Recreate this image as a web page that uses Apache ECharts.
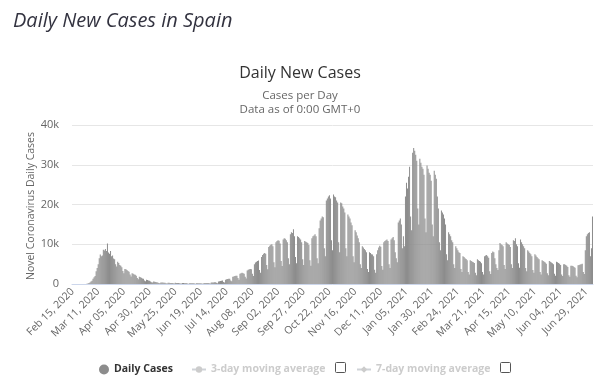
<!DOCTYPE html>
<html><head><meta charset="utf-8">
<script src="https://cdn.jsdelivr.net/npm/echarts@6/dist/echarts.min.js"></script>
<style>html,body{margin:0;padding:0;background:#fff}#c{width:600px;height:379px}</style>
</head><body><div id="c"></div>
<script>
// Daily new cases, Spain, one value per day starting Saturday Feb 15, 2020 (rows = weeks Sat..Fri)
const dailyCases = [
0,0,1,0,0,1,0,
0,0,2,3,5,8,15,
40,150,250,400,600,800,1300,
1700,2000,3200,4000,5000,6500,7400,
7000,7200,8600,8400,8800,8300,10200,
7900,7600,8300,7000,7200,6400,6200,
5000,4400,5600,5300,4800,4600,4200,
3300,2700,3800,3700,3500,3300,3100,
2400,1900,2700,2600,2400,2300,2100,
1500,1200,1800,1700,1600,1400,1300,
900,700,1100,1000,900,800,600,
450,350,600,550,500,450,400,
280,220,400,380,350,330,300,
200,150,320,300,280,260,240,
180,120,300,280,250,230,200,
150,100,250,230,200,190,170,
120,80,220,200,190,180,170,
110,80,230,220,210,200,190,
130,90,280,260,270,250,240,
160,110,350,380,400,420,450,
300,200,650,700,750,800,850,
500,400,1100,1200,1250,1300,1350,
900,700,1800,1900,2000,2100,2100,
1500,1100,2600,2700,2800,2700,2600,
1800,1400,3400,3600,3700,3800,3700,
2600,2000,5000,5400,5600,5800,5900,
3500,2800,6800,7300,7600,7800,7600,
4800,3700,9300,9600,9900,10000,9500,
5500,4200,10500,10800,11000,10900,10200,
5800,4500,11200,11500,11400,11000,10500,
6500,5000,12500,13000,12800,13800,12000,
6800,5200,12000,11800,11500,11200,10500,
6200,4800,10800,10600,10500,10300,9800,
6000,4600,11500,12000,12200,12500,12000,
6500,5200,14000,16000,16500,17000,16800,
9000,7000,21000,21500,22000,22300,21500,
11000,8500,22500,22000,21800,21000,20500,
10500,8000,20500,20300,19500,19000,18000,
9000,7000,17500,17000,16500,15500,14800,
7000,5500,13500,13000,12200,11500,10500,
5000,4000,9500,9200,8800,8500,8000,
3800,3000,8000,7800,7500,7400,7000,
3600,2800,7500,8500,9200,9600,9400,
4500,3600,10500,10800,11000,11200,10800,
5000,4000,11200,11500,11800,11000,8000,
6500,5500,15500,16000,16500,15000,9000,
12000,9500,22000,25500,24000,27000,29500,
17000,13500,33000,34200,33500,32500,31000,
19000,15000,31500,30500,29500,29000,27500,
16500,13000,29800,29000,28000,27500,26000,
15000,12000,28500,27500,26500,22000,19000,
10500,8500,18500,18000,17500,16500,15000,
7500,6000,13000,12500,12000,11000,10500,
5000,4000,9500,9000,8500,8000,7800,
3800,3000,7000,6800,6500,6300,6000,
3000,2400,6000,5800,5600,5500,5300,
2800,2200,6200,6000,5800,5600,5200,
3000,2400,7000,7200,7300,7000,6600,
3200,2500,7800,8200,8000,6500,5000,
4000,3500,8500,10300,10000,9800,9500,
4800,3800,10500,10200,10000,9800,9300,
5000,4000,11000,10800,11500,10000,9500,
5200,4100,11200,10500,10000,9500,9000,
4000,3200,8500,8200,7800,7500,7000,
3500,2800,7500,7200,6800,6500,6200,
3000,2400,6000,5800,5600,5400,5100,
2700,2200,5800,5600,5400,5200,5000,
2600,2100,5600,5500,5300,5100,4800,
2400,2000,5000,5000,4800,4600,4300,
2200,1800,4600,4600,4500,4300,4100,
2100,1700,4700,4800,4900,5000,5100,
3000,2500,8500,12000,12500,12800,13000,
7000,9000,17000
];
const firstDay = [2020, 1, 15]; // year, month index, day
const monthNames = ['Jan','Feb','Mar','Apr','May','Jun','Jul','Aug','Sep','Oct','Nov','Dec'];
const yTickLabels = ['0','10k','20k','30k','40k'];
const seriesNames = ['Daily Cases','3-day moving average','7-day moving average'];
const yAxisTitle = 'Novel Coronavirus Daily Cases';

const categories = dailyCases.map((_, i) => {
  const d = new Date(Date.UTC(firstDay[0], firstDay[1], firstDay[2] + i));
  const dd = String(d.getUTCDate()).padStart(2, '0');
  return monthNames[d.getUTCMonth()] + ' ' + dd + ', ' + d.getUTCFullYear();
});

const FONT = '"Open Sans", "Liberation Sans", Arial, sans-serif';
const chart = echarts.init(document.getElementById('c'), null, {renderer: 'canvas'});
chart.setOption({
  animation: false,
  textStyle: {fontFamily: FONT},
  title: [
    {text: 'Daily New Cases in Spain', left: 8, top: 6,
     textStyle: {fontSize: 20, fontStyle: 'italic', fontWeight: 'normal', color: '#333340', fontFamily: FONT}},
    {text: 'Daily New Cases', subtext: 'Cases per Day\nData as of 0:00 GMT+0', left: 'center', top: 60,
     itemGap: 8,
     textStyle: {fontSize: 16, fontWeight: 'normal', color: '#333333', fontFamily: FONT},
     subtextStyle: {fontSize: 11.5, color: '#666666', lineHeight: 13.5, fontFamily: FONT}}
  ],
  legend: [
    {data: [seriesNames[0]], left: 94, top: 359, icon: 'circle', itemWidth: 10, itemHeight: 10, itemGap: 0,
     textStyle: {fontSize: 10.5, fontWeight: 'bold', color: '#333333', fontFamily: FONT}},
    {data: [seriesNames[1]], left: 186, top: 359, itemWidth: 14, itemHeight: 8,
     inactiveColor: '#cccccc',
     textStyle: {fontSize: 10.5, fontWeight: 'bold', color: '#cccccc', fontFamily: FONT}},
    {data: [seriesNames[2]], left: 351, top: 359, itemWidth: 14, itemHeight: 8,
     inactiveColor: '#cccccc',
     textStyle: {fontSize: 10.5, fontWeight: 'bold', color: '#cccccc', fontFamily: FONT}}
  ],
  graphic: [
    {type: 'rect', shape: {x: 335.5, y: 362.5, width: 10, height: 10, r: 1}, style: {fill: '#fff', stroke: '#555', lineWidth: 1}},
    {type: 'rect', shape: {x: 500.5, y: 362.5, width: 10, height: 10, r: 1}, style: {fill: '#fff', stroke: '#555', lineWidth: 1}},
    {type: 'text', x: 31, y: 206, rotation: Math.PI / 2,
     style: {text: yAxisTitle, align: 'center', verticalAlign: 'middle', fill: '#666666',
             font: '10.5px ' + FONT}}
  ],
  grid: {left: 72, right: 7, top: 125, bottom: 95, containLabel: false},
  xAxis: {
    type: 'category', data: categories, boundaryGap: true,
    axisLine: {lineStyle: {color: '#ccd6eb'}},
    axisTick: {show: false},
    axisLabel: {interval: 24, rotate: 45, fontSize: 10.5, color: '#666666', margin: 6, fontFamily: FONT}
  },
  yAxis: {
    type: 'value', min: 0, max: 40000, interval: 10000,
    axisLine: {show: false}, axisTick: {show: false},
    splitLine: {lineStyle: {color: '#e6e6e6'}},
    axisLabel: {fontSize: 11, color: '#666666', margin: 13, fontFamily: FONT,
      formatter: v => yTickLabels[Math.round(v / 10000)]}
  },
  series: [
    {name: seriesNames[0], type: 'bar', data: dailyCases, barCategoryGap: '30%',
     itemStyle: {color: '#8c8c8c'}},
    {name: seriesNames[1], type: 'line', data: [], symbol: 'circle', itemStyle: {color: '#cccccc'}},
    {name: seriesNames[2], type: 'line', data: [], symbol: 'diamond', itemStyle: {color: '#cccccc'}}
  ]
});
chart.dispatchAction({type: 'legendUnSelect', name: seriesNames[1]});
chart.dispatchAction({type: 'legendUnSelect', name: seriesNames[2]});
</script></body></html>
